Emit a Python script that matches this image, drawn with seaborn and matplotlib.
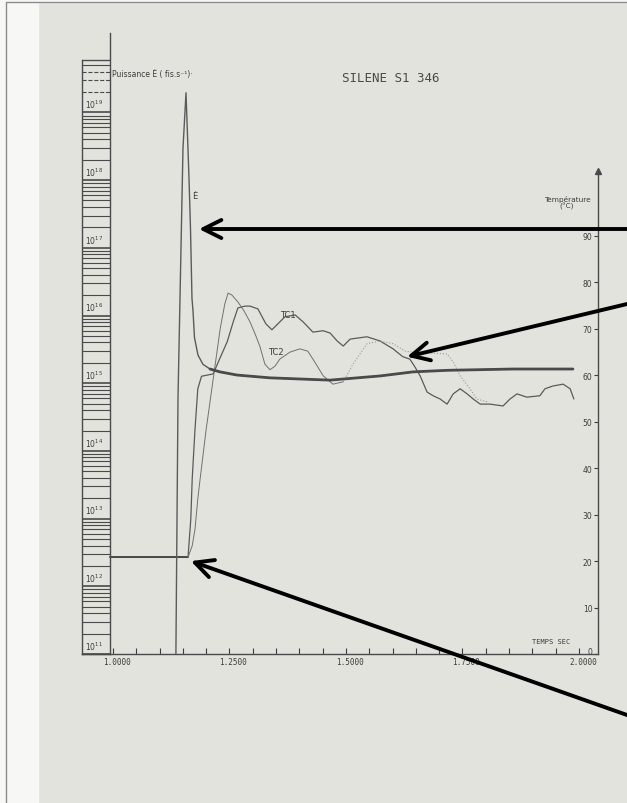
import matplotlib
matplotlib.use('Agg')
import matplotlib.pyplot as plt
import seaborn as sns
from matplotlib.patches import Rectangle
from matplotlib.lines import Line2D
from matplotlib.transforms import ScaledTranslation


# Puissance E-point (fissions/s)
POWER_TIME = [1.135, 1.1395, 1.1438, 1.1502, 1.1567, 1.1631, 1.1663, 1.1695,
              1.1717, 1.1749, 1.1824, 1.1931, 1.2082, 1.2296, 1.266, 1.337,
              1.4657, 1.573, 1.644, 1.717, 1.858, 1.987]
POWER = [1.0e11, 6.0e14, 1.8e16, 2.95e18, 1.95e19, 1.07e18, 1.95e17, 1.8e16,
         1.17e16, 4.7e15, 2.6e15, 1.9e15, 1.62e15, 1.47e15, 1.32e15, 1.2e15,
         1.11e15, 1.28e15, 1.47e15, 1.55e15, 1.62e15, 1.62e15]

# thermocouple TC1 (deg C)
TC1_TIME = [0.994, 1.161, 1.167, 1.170, 1.176, 1.182, 1.190, 1.215, 1.230,
            1.245, 1.258, 1.268, 1.283, 1.294, 1.311, 1.320, 1.328, 1.341,
            1.354, 1.369, 1.391, 1.408, 1.429, 1.451, 1.466, 1.481, 1.494,
            1.509, 1.545, 1.573, 1.601, 1.622, 1.637, 1.648, 1.659, 1.674,
            1.687, 1.702, 1.717, 1.730, 1.745, 1.760, 1.773, 1.788, 1.809,
            1.837, 1.852, 1.867, 1.888, 1.916, 1.927, 1.944, 1.966, 1.981,
            1.989]
TC1_TEMP = [20.8, 20.8, 29.1, 37.7, 48.4, 57.1, 59.8, 60.3, 63.8, 67.2, 71.5,
            74.5, 74.9, 74.9, 74.3, 72.6, 71.1, 69.8, 71.1, 72.6, 73.0, 71.5,
            69.3, 69.6, 69.1, 67.4, 66.3, 67.8, 68.3, 67.4, 65.7, 64.0, 63.5,
            61.8, 59.9, 56.4, 55.6, 54.9, 53.8, 56.0, 57.1, 56.0, 54.9, 53.8,
            53.8, 53.4, 54.9, 56.0, 55.3, 55.6, 57.1, 57.7, 58.1, 57.1, 54.9]

# thermocouple TC2, solid part then the faint dotted part
TC2_TIME = [1.161, 1.170, 1.176, 1.182, 1.187, 1.200, 1.215, 1.230, 1.240,
            1.247, 1.255, 1.268, 1.281, 1.294, 1.305, 1.315, 1.326, 1.337,
            1.348, 1.358, 1.380, 1.401, 1.418, 1.429, 1.451, 1.472, 1.494]
TC2_TEMP = [20.8, 23.3, 26.9, 33.4, 37.7, 48.4, 59.2, 70.0, 75.4, 77.7, 77.3,
            75.8, 73.9, 71.5, 68.9, 66.3, 62.4, 61.2, 62.0, 63.5, 65.0, 65.7,
            65.2, 63.5, 59.9, 58.1, 58.6]
TC2_FAINT_TIME = [1.494, 1.515, 1.545, 1.573, 1.601, 1.627, 1.644, 1.717,
                  1.730, 1.745, 1.766, 1.781, 1.803]
TC2_FAINT_TEMP = [58.6, 62.4, 66.8, 67.4, 66.8, 65.2, 65.0, 64.6, 62.9, 59.9,
                  57.1, 54.9, 54.3]

TIME_TICKS = [1.0, 1.25, 1.5, 1.75, 2.0]
TIME_LABELS = ['1.0000', '1.2500', '1.5000', '1.7500', '2.0000']
TEMP_TICKS = [0, 10, 20, 30, 40, 50, 60, 70, 80, 90]
DECADES = list(range(11, 20))

PAPER = '#e3e3dd'
INK = '#3c3c3c'
TRACE = '#5a5a5a'

sns.set_theme(style='white')
plt.rcParams['font.family'] = ['DejaVu Sans']

W, H = 627, 804
fig = plt.figure(figsize=(W / 100, H / 100), dpi=100)
fig.patch.set_facecolor(PAPER)

# scanned page edge
fig.add_artist(Rectangle((0, 0), 38 / W, 1, transform=fig.transFigure,
                         color='#f7f7f5', zorder=-2))
fig.add_artist(Rectangle((0, 801 / H), 1, 3 / H, transform=fig.transFigure,
                         color='#f7f7f5', zorder=-2))
fig.add_artist(Line2D([6 / W, 6 / W], [0, 801 / H], color='#8c8c8c', lw=1))
fig.add_artist(Line2D([6 / W, 1], [801 / H, 801 / H], color='#8c8c8c', lw=1))

box = [82 / W, 149 / H, 516 / W, 621 / H]
T_TOP = 133.7
P_LIM = (1e11, 10 ** 20.173)

# temperature / time axes
ax = fig.add_axes(box)
ax.set_facecolor('none')
ax.set_xlim(0.9335, 2.0408)
ax.set_ylim(0, T_TOP)
for s in ['top', 'right']:
    ax.spines[s].set_visible(False)
ax.spines['left'].set_position(('axes', 1.0))
ax.spines['left'].set_bounds(0, 104)
for s in ['left', 'bottom']:
    ax.spines[s].set_color('#4a4a4a')
    ax.spines[s].set_linewidth(1.0)
ax.plot([1.0], [104], marker='^', ms=4, color='#4a4a4a', clip_on=False,
        transform=ax.get_yaxis_transform())

ax.set_yticks(TEMP_TICKS)
ax.set_yticklabels([str(v) for v in TEMP_TICKS])
ax.tick_params(axis='y', direction='out', length=3, width=0.8, pad=1,
               colors=INK, labelsize=5.5, left=True)
ax.set_xticks(TIME_TICKS)
ax.set_xticklabels(TIME_LABELS, family='DejaVu Sans Mono')
ax.set_xticks([1.0 + 0.05 * i for i in range(21)], minor=True)
ax.tick_params(axis='x', which='both', direction='in', length=4, width=0.8,
               pad=2, colors=INK, labelsize=5.5, bottom=True)
# the printed time labels sit a little right of their ticks
for lab in ax.get_xticklabels():
    lab.set_transform(lab.get_transform() +
                      ScaledTranslation(4 / 100, 0, fig.dpi_scale_trans))
zero = ax.get_yticklabels()[0]
zero.set_transform(zero.get_transform() +
                   ScaledTranslation(0, 3 / 100, fig.dpi_scale_trans))

sns.lineplot(x=TC1_TIME, y=TC1_TEMP, ax=ax, color=TRACE, lw=0.9,
             sort=False, estimator=None)
sns.lineplot(x=TC1_TIME[:2], y=TC1_TEMP[:2], ax=ax, color='#4a4a4a', lw=1.4,
             sort=False, estimator=None)
sns.lineplot(x=TC2_TIME, y=TC2_TEMP, ax=ax, color='#707070', lw=0.7,
             sort=False, estimator=None)
sns.lineplot(x=TC2_FAINT_TIME, y=TC2_FAINT_TEMP, ax=ax, color='#9a9a9a',
             lw=0.8, ls=':', sort=False, estimator=None)

ax.text(1.3755, 73.0, 'TC1', fontsize=6, color=INK, ha='center', va='center')
ax.text(1.350, 65.2, 'TC2', fontsize=6, color=INK, ha='center', va='center')
ax.text(1.974, 97.3, 'Température\n(°C)', fontsize=5.3, color=INK,
        ha='center', va='center', linespacing=0.9)
ax.text(1.94, 2.2, 'TEMPS SEC', fontsize=5, color=INK, ha='center',
        va='bottom', family='DejaVu Sans Mono')

# power on a log scale sharing the same box
pax = ax.twinx()
pax.set_yscale('log')
pax.set_ylim(*P_LIM)
pax.axis('off')
sns.lineplot(x=POWER_TIME, y=POWER, ax=pax, color=TRACE, lw=1.0,
             sort=False, estimator=None)
sns.lineplot(x=POWER_TIME[12:], y=POWER[12:], ax=pax, color='#4a4a4a',
             lw=2.0, sort=False, estimator=None)
pax.text(1.176, 6e17, 'Ė', fontsize=6, color=INK, ha='center', va='center')

# log ruler for the power
rax = fig.add_axes([82 / W, 149 / H, 28 / W, 621 / H])
rax.set_facecolor('none')
rax.set_yscale('log')
rax.set_ylim(*P_LIM)
rax.set_xlim(0, 1)
rax.set_xticks([])
rax.set_yticks([])
rax.minorticks_off()
rax.spines['top'].set_visible(False)
rax.spines['left'].set_bounds(1e11, 6e19)
for s in ['left', 'right', 'bottom']:
    rax.spines[s].set_color('#4a4a4a')
    rax.spines[s].set_linewidth(1.0)
for n in DECADES:
    for k in range(1, 10):
        level = k * 10.0 ** n
        if level > 6e19:
            break
        ls = '--' if (n == 19 and 2 <= k <= 4) else '-'
        rax.hlines(level, 0, 1, color='#4a4a4a', lw=1.2 if k == 1 else 0.8,
                   ls=ls)
    rax.text(0.1, 10.0 ** n * 1.08, '10$^{%d}$' % n, fontsize=5.5,
             color=INK, ha='left', va='bottom')
rax.hlines(6e19, 0, 1, color='#4a4a4a', lw=0.9)

fig.text(112 / W, 1 - 75 / H, 'Puissance Ė ( fis.s⁻¹)·', fontsize=5.5,
         color=INK, ha='left', va='center')
fig.text(391 / W, 1 - 79 / H, 'SILENE S1 346', fontsize=9, color='#4a4a4a',
         ha='center', va='center', family='DejaVu Sans Mono')

# black pointer arrows drawn over the scan
arrow = dict(arrowstyle='->,head_length=1.3,head_width=0.65', lw=2.8,
             color='black', mutation_scale=10, shrinkA=0, shrinkB=0)
ax.annotate('', xy=(1.1845, 91.5), xytext=(1.0, 1 - 230 / H),
            textcoords='figure fraction', arrowprops=arrow,
            annotation_clip=False)
ax.annotate('', xy=(1.631, 64.0), xytext=(1.0, 1 - 305 / H),
            textcoords='figure fraction', arrowprops=arrow,
            annotation_clip=False)
ax.annotate('', xy=(1.167, 20.0), xytext=(1.0, 1 - 716 / H),
            textcoords='figure fraction', arrowprops=arrow,
            annotation_clip=False)

plt.savefig('out.png', dpi=100, facecolor=fig.get_facecolor())
